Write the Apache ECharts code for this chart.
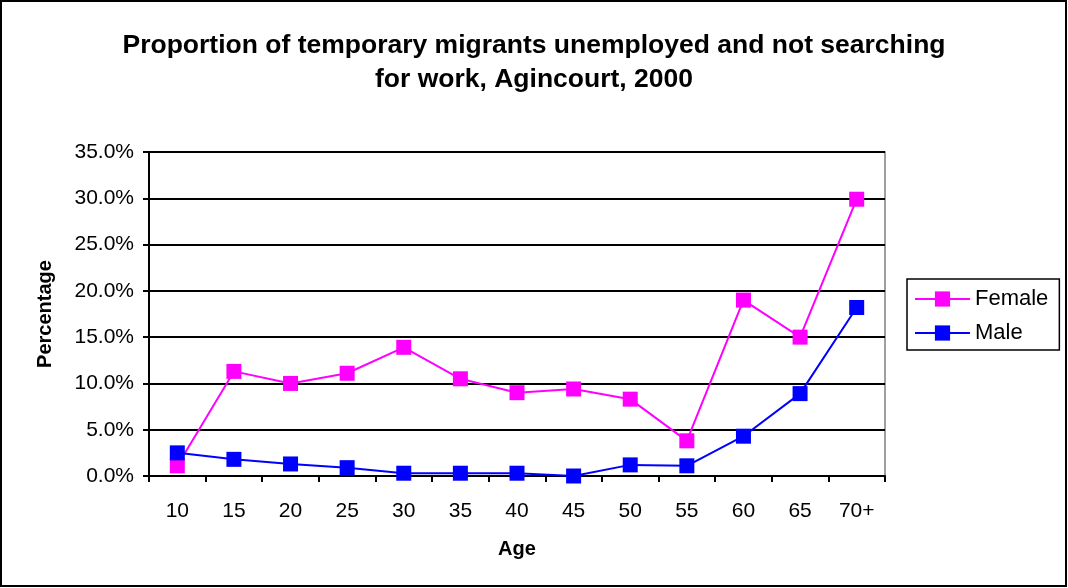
<!DOCTYPE html>
<html>
<head>
<meta charset="utf-8">
<script src="https://cdn.jsdelivr.net/npm/echarts@6/dist/echarts.min.js"></script>
<style>
  html, body { margin: 0; padding: 0; background: #fff; }
  #chart { width: 1068px; height: 588px; }
</style>
</head>
<body>
<div id="chart"></div>
<script>
// Age groups on the category axis
const ages = ['10', '15', '20', '25', '30', '35', '40', '45', '50', '55', '60', '65', '70+'];
// Share unemployed and not searching for work, in percent
const female = [1.1, 11.3, 10.0, 11.1, 13.9, 10.5, 9.0, 9.4, 8.3, 3.8, 19.0, 15.0, 29.9];
const male = [2.5, 1.8, 1.3, 0.9, 0.3, 0.3, 0.3, 0.0, 1.2, 1.1, 4.3, 8.9, 18.2];
// Value axis range and step, in percent
const yMin = 0, yMax = 35, yStep = 5;

const font = '"Liberation Sans", Arial, sans-serif';
const chart = echarts.init(document.getElementById('chart'), null, { renderer: 'canvas' });

chart.setOption({
  backgroundColor: '#ffffff',
  animation: false,
  textStyle: { fontFamily: font, color: '#000' },
  title: {
    text: 'Proportion of temporary migrants unemployed and not searching\nfor work, Agincourt, 2000',
    left: 'center',
    top: 24,
    textStyle: { fontFamily: font, fontSize: 26.5, fontWeight: 'bold', color: '#000', lineHeight: 34, align: 'center' }
  },
  graphic: [{
    type: 'rect',
    shape: { x: 1, y: 1, width: 1065, height: 585 },
    style: { fill: 'none', stroke: '#000', lineWidth: 2 },
    silent: true
  }],
  legend: {
    left: 907,
    top: 279,
    orient: 'vertical',
    itemWidth: 55,
    itemHeight: 19,
    itemGap: 12,
    padding: [9, 11, 6, 7],
    borderColor: '#000',
    borderWidth: 1.5,
    textStyle: { fontFamily: font, fontSize: 22, color: '#000' },
    data: ['Female', 'Male']
  },
  grid: {
    left: 149, right: 183, top: 152, bottom: 112,
    show: true, borderColor: '#808080', borderWidth: 1.5, backgroundColor: '#fff'
  },
  xAxis: {
    type: 'category',
    data: ages,
    boundaryGap: true,
    name: 'Age',
    nameLocation: 'middle',
    nameGap: 63,
    nameTextStyle: { fontFamily: font, fontSize: 20, fontWeight: 'bold', color: '#000', verticalAlign: 'top' },
    axisLine: { lineStyle: { color: '#000', width: 2 } },
    axisTick: { show: true, length: 6, lineStyle: { color: '#000', width: 2 } },
    axisLabel: { fontFamily: font, fontSize: 21, color: '#000', margin: 25 },
    splitLine: { show: false }
  },
  yAxis: {
    type: 'value',
    min: yMin,
    max: yMax,
    interval: yStep,
    name: 'Percentage',
    nameLocation: 'middle',
    nameGap: 104,
    nameRotate: 90,
    nameTextStyle: { fontFamily: font, fontSize: 20, fontWeight: 'bold', color: '#000', verticalAlign: 'middle' },
    axisLine: { show: true, lineStyle: { color: '#000', width: 2 } },
    axisTick: { show: true, length: 6, lineStyle: { color: '#000', width: 2 } },
    axisLabel: { fontFamily: font, fontSize: 21, color: '#000', margin: 15, formatter: v => v.toFixed(1) + '%' },
    splitLine: { show: true, lineStyle: { color: '#000', width: 2 } }
  },
  series: [
    {
      name: 'Female',
      type: 'line',
      data: female,
      symbol: 'rect',
      symbolSize: 15,
      color: '#ff00ff',
      lineStyle: { color: '#ff00ff', width: 2 },
      itemStyle: { color: '#ff00ff' }
    },
    {
      name: 'Male',
      type: 'line',
      data: male,
      symbol: 'rect',
      symbolSize: 15,
      color: '#0000ff',
      lineStyle: { color: '#0000ff', width: 2 },
      itemStyle: { color: '#0000ff' }
    }
  ]
});
</script>
</body>
</html>
